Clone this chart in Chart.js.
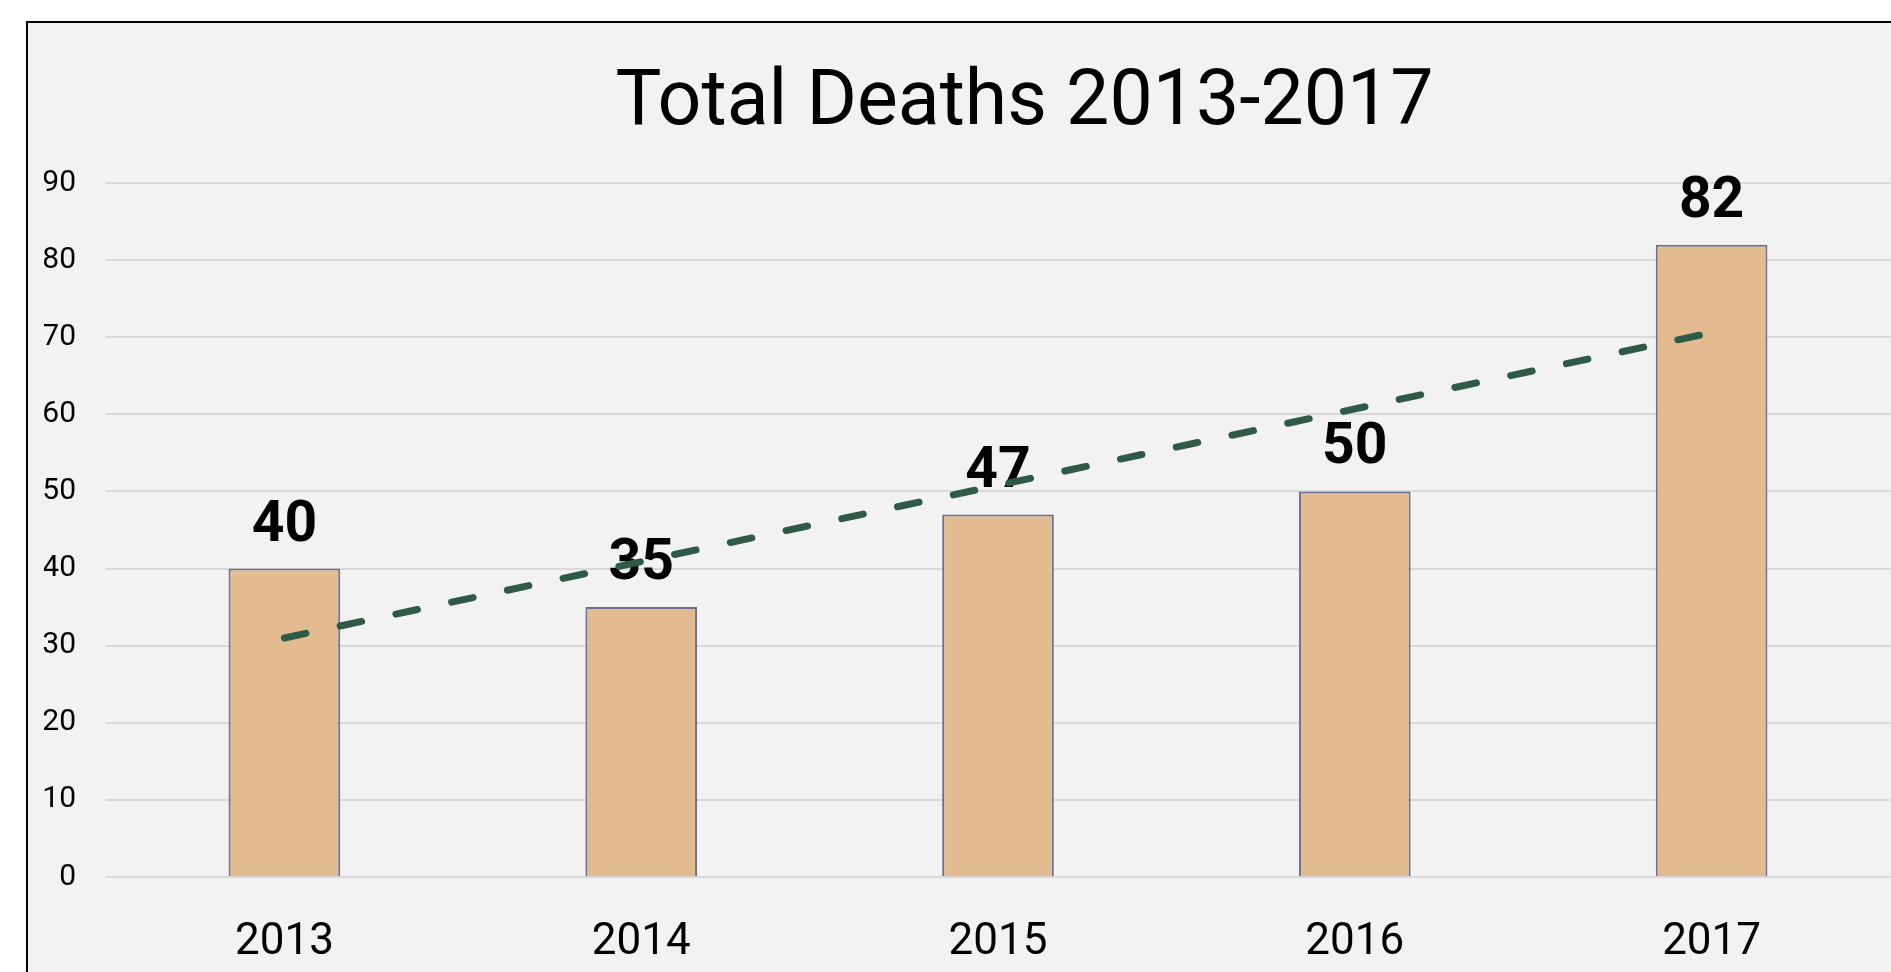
<!DOCTYPE html>
<html>
<head>
<meta charset="utf-8">
<title>Total Deaths 2013-2017</title>
<script src="https://cdn.jsdelivr.net/npm/chart.js@4/dist/chart.umd.min.js"></script>
<style>
  body { margin: 0; background: #fff; overflow: hidden; }
  #frame {
    position: absolute; left: 26px; top: 21px; width: 2100px; height: 1000px;
    border-left: 2px solid #000; border-top: 2px solid #000; background: #f2f2f2;
  }
  #c { position: absolute; left: 0; top: 0; }
</style>
</head>
<body>
<div id="frame">
  <canvas id="c" width="1977" height="949" style="width:1977px;height:949px"></canvas>
</div>
<script>
// values
const years = ['2013', '2014', '2015', '2016', '2017'];
const deaths = [40, 35, 47, 50, 82];
const trendline = [31.0, 40.9, 50.8, 60.7, 70.6]; // dashed trend, read at each year
const yMax = 90;
const yStep = 10;

// bold value labels above the bars, drawn before the trendline goes on top
const valueLabels = {
  id: 'valueLabels',
  afterDatasetDraw(chart, args) {
    if (args.index !== 0) return;
    const ctx = chart.ctx;
    ctx.save();
    ctx.font = 'bold 57px Roboto';
    ctx.fillStyle = '#000';
    ctx.textAlign = 'center';
    ctx.textBaseline = 'alphabetic';
    args.meta.data.forEach((bar, i) => {
      ctx.fillText(String(deaths[i]), bar.x, bar.y - 28);
    });
    ctx.restore();
  },
};

const chart = new Chart(document.getElementById('c'), {
  data: {
    labels: years,
    datasets: [
      {
        type: 'bar',
        data: deaths,
        backgroundColor: '#e2bb91',
        borderColor: '#6c7194',
        borderWidth: 2,
        barPercentage: 0.313,
        categoryPercentage: 1,
        order: 2,
      },
      {
        type: 'line',
        data: trendline,
        borderColor: '#2e5a47',
        borderWidth: 7,
        borderDash: [22, 35],
        borderCapStyle: 'round',
        pointRadius: 0,
        tension: 0,
        fill: false,
        order: 1,
      },
    ],
  },
  options: {
    responsive: false,
    animation: false,
    events: [],
    layout: { padding: { left: 16, right: 0, top: 0, bottom: 5 } },
    plugins: {
      legend: { display: false },
      tooltip: { enabled: false },
      title: {
        display: true,
        text: 'Total Deaths 2013-2017',
        color: '#000',
        font: { family: 'Roboto', size: 77, weight: 'normal' },
        padding: { top: 36, bottom: 31.6 },
      },
    },
    scales: {
      x: {
        grid: { display: false },
        border: { display: false },
        ticks: { color: '#000', font: { family: 'Roboto', size: 44 }, padding: 32 },
        afterFit(scale) { scale.height = 90; },
      },
      y: {
        min: 0,
        max: yMax,
        grid: { color: '#d9d9d9', lineWidth: 2, drawTicks: false },
        border: { display: false },
        ticks: { stepSize: yStep, color: '#000', font: { family: 'Roboto', size: 30 }, padding: 30 },
        afterFit(scale) { scale.width = 62; },
      },
      pad: {
        type: 'linear',
        position: 'right',
        grid: { display: false },
        border: { display: false },
        ticks: { display: false },
        afterFit(scale) { scale.width = 115; },
      },
    },
  },
  plugins: [valueLabels],
});
</script>
</body>
</html>
